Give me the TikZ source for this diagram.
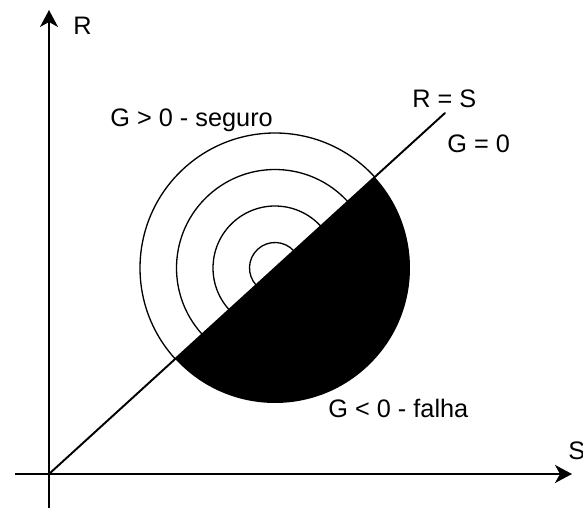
\documentclass[tikz,border=0pt]{standalone}
\usepackage{fontspec}
\setmainfont{Liberation Sans}
\usepackage{tikz}
\usetikzlibrary{arrows.meta}

\begin{document}
\begin{tikzpicture}[>={Stealth[length=3.4mm,width=3.6mm,inset=1mm]},
  axis/.style={->,line width=1.1pt},
  ring/.style={line width=0.75pt},
  lbl/.style={anchor=base west,inner sep=0pt,font=\fontsize{14.4}{17}\selectfont}]
  \useasboundingbox (-0.98,-0.68) rectangle (10.68,9.48);
  \coordinate (o) at (0,0);
  \coordinate (ytop) at (0,9.28);
  \coordinate (ybot) at (0,-0.68);
  \coordinate (xleft) at (-0.68,0);
  \coordinate (xright) at (10.46,0);
  \coordinate (c) at (4.52,4.12);
  \coordinate (lim) at (7.92,7.22);
  % falha: lower half filled
  \fill (c) ++(42.35:2.7) arc[start angle=42.35,end angle=-137.65,radius=2.7] -- cycle;
  % seguro: rings on the upper half
  \foreach \r in {0.51,1.24,1.97,2.7}
    \draw[ring] (c) ++(42.35:\r) arc[start angle=42.35,end angle=222.35,radius=\r];
  \draw[axis] (ybot) -- (ytop);
  \draw[axis] (xleft) -- (xright);
  \draw[line width=1.1pt,line cap=round] (o) -- (lim);
  \node[lbl] (rlab) at (0.48,8.78) {R};
  \node[lbl] (slab) at (10.38,0.28) {S};
  \node[lbl] (eq) at (7.26,7.32) {R = S};
  \node[lbl] (gzero) at (7.96,6.42) {G = 0};
  \node[lbl] (safe) at (1.22,6.94) {G > 0 - seguro};
  \node[lbl] (fail) at (5.58,1.12) {G < 0 - falha};
\end{tikzpicture}
\end{document}
